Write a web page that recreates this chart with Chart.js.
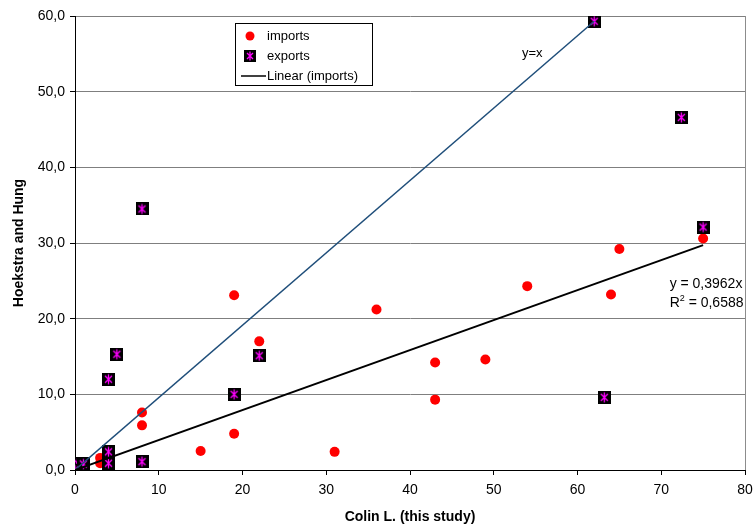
<!DOCTYPE html>
<html>
<head>
<meta charset="utf-8">
<script src="https://cdn.jsdelivr.net/npm/chart.js@4/dist/chart.umd.min.js"></script>
<style>
  html,body{margin:0;padding:0;background:#fff;}
  #wrap{width:754px;height:529px;position:relative;}
</style>
</head>
<body>
<div id="wrap"><canvas id="c" width="754" height="529"></canvas></div>
<script>
// ---- data ----
const importsX = [75, 65, 64, 54, 49, 43, 43, 36, 31, 22, 19, 19, 15, 8, 8, 3, 3, 1, 0.5];
const importsY = [30.6, 29.2, 23.2, 24.3, 14.6, 14.2, 9.3, 21.2, 2.4, 17.0, 23.1, 4.8, 2.5, 7.6, 5.9, 1.6, 0.9, 0.4, 0.2];
const exportsX = [62, 72.4, 75, 63.2, 22, 19, 8, 5, 4, 4, 4, 8, 0.3, 1, 0];
const exportsY = [59.3, 46.6, 32.1, 9.6, 15.1, 10.0, 34.5, 15.3, 12.0, 2.4, 0.9, 1.1, 0.9, 0.8, 0];
const trendSlope = 0.3962;
const trendR2 = 0.6588;
const trendX = [0, 75];
const yxLineX = [0, 62];
const yxLineY = [0, 59.3];
const xTickLabels = ['0','10','20','30','40','50','60','70','80'];
const yTickLabels = ['0,0','10,0','20,0','30,0','40,0','50,0','60,0'];
const seriesNames = ['imports', 'exports', 'Linear (imports)'];
const xTitle = 'Colin L. (this study)';
const yTitle = 'Hoekstra and Hung';

// ---- export marker image ----
function makeExportMarker(size){
  const cv = document.createElement('canvas');
  cv.width = size; cv.height = size;
  const g = cv.getContext('2d');
  g.fillStyle = '#000000';
  g.fillRect(0,0,size,size);
  g.strokeStyle = '#FF00FF';
  g.lineWidth = 1.3;
  const m = 3;
  g.beginPath();
  g.moveTo(m, m); g.lineTo(size-m, size-m);
  g.moveTo(size-m, m); g.lineTo(m, size-m);
  g.moveTo(size/2, 1.5); g.lineTo(size/2, size-1.5);
  g.stroke();
  return cv;
}
const exportMarker = makeExportMarker(13);
const exportMarkerSmall = makeExportMarker(12);

const importsData = importsX.map((x,i)=>({x, y: importsY[i]}));
const exportsData = exportsX.map((x,i)=>({x, y: exportsY[i]}));
const trendData = trendX.map(x=>({x, y: trendSlope*x}));
const yxData = yxLineX.map((x,i)=>({x, y: yxLineY[i]}));

const FONT = '"Liberation Sans", Arial, sans-serif';

const decorPlugin = {
  id: 'decor',
  afterDraw(chart){
    const ctx = chart.ctx;
    const ca = chart.chartArea;
    const xs = chart.scales.x, ys = chart.scales.y;
    ctx.save();
    // right plot border
    ctx.strokeStyle = '#8c8c8c';
    ctx.lineWidth = 1;
    ctx.beginPath();
    ctx.moveTo(Math.round(ca.right)+0.5, ca.top);
    ctx.lineTo(Math.round(ca.right)+0.5, ca.bottom);
    ctx.stroke();

    // annotations
    ctx.fillStyle = '#000';
    ctx.font = '13px ' + FONT;
    ctx.textBaseline = 'middle';
    ctx.textAlign = 'center';
    ctx.fillText('y=x', xs.getPixelForValue(54.6), ys.getPixelForValue(55.1));

    ctx.font = '14px ' + FONT;
    ctx.textAlign = 'left';
    const tx = xs.getPixelForValue(71.0);
    ctx.fillText('y = 0,3962x', tx, ys.getPixelForValue(24.6));
    const ry = ys.getPixelForValue(22.0);
    ctx.fillText('R', tx, ry);
    const rw = ctx.measureText('R').width;
    ctx.font = '9px ' + FONT;
    ctx.fillText('2', tx + rw, ry - 5);
    const sw = ctx.measureText('2').width;
    ctx.font = '14px ' + FONT;
    ctx.fillText(' = ' + trendR2.toFixed(4).replace('.', ','), tx + rw + sw, ry);

    // legend box
    const lx = 235.5, ly = 23.5, lw = 137, lh = 62;
    ctx.fillStyle = '#fff';
    ctx.fillRect(lx, ly, lw, lh);
    ctx.strokeStyle = '#000';
    ctx.lineWidth = 1;
    ctx.strokeRect(lx, ly, lw, lh);
    ctx.font = '13px ' + FONT;
    ctx.fillStyle = '#000';
    ctx.textAlign = 'left';
    const textX = 267;
    const rows = [36, 56, 76];
    // imports
    ctx.beginPath();
    ctx.fillStyle = '#FF0000';
    ctx.arc(250, rows[0], 4.5, 0, Math.PI*2);
    ctx.fill();
    ctx.fillStyle = '#000';
    ctx.fillText(seriesNames[0], textX, rows[0]);
    // exports
    ctx.drawImage(exportMarkerSmall, 244, rows[1]-6);
    ctx.fillText(seriesNames[1], textX, rows[1]);
    // linear
    ctx.strokeStyle = '#000';
    ctx.lineWidth = 1.5;
    ctx.beginPath();
    ctx.moveTo(241, rows[2]); ctx.lineTo(266, rows[2]);
    ctx.stroke();
    ctx.fillText(seriesNames[2], textX, rows[2]);
    ctx.restore();
  }
};

new Chart(document.getElementById('c'), {
  type: 'scatter',
  data: {
    datasets: [
      { label: seriesNames[2], type: 'line', data: trendData, borderColor: '#000000', borderWidth: 2, pointRadius: 0, fill: false, order: 0 },
      { label: 'y=x', type: 'line', data: yxData, borderColor: '#1F4E7A', borderWidth: 1.5, pointRadius: 0, fill: false, order: 1 },
      { label: seriesNames[1], data: exportsData, pointStyle: exportMarker, pointRadius: 6.5, order: 2 },
      { label: seriesNames[0], data: importsData, backgroundColor: '#FF0000', borderColor: '#FF0000', pointRadius: 5, borderWidth: 0, order: 3 }
    ]
  },
  options: {
    responsive: false,
    animation: false,
    events: [],
    layout: { padding: { left: 0, top: 16, right: 9, bottom: 0 } },
    plugins: { legend: { display: false }, tooltip: { enabled: false } },
    scales: {
      x: {
        type: 'linear', min: 0, max: 80,
        afterFit(s){ s.height = 59; s.paddingRight = 0; s.paddingLeft = 0; },
        ticks: { stepSize: 10, color: '#000', font: { family: FONT, size: 14 }, padding: 7,
                 callback: (v, i) => xTickLabels[i] },
        grid: { drawOnChartArea: false, color: '#000', tickColor: '#000', tickLength: 5 },
        border: { display: true, color: '#000', width: 1 },
        title: { display: true, text: xTitle, color: '#000', font: { family: FONT, size: 14, weight: 'bold' }, padding: { top: 0, bottom: 3 } }
      },
      y: {
        type: 'linear', min: 0, max: 60,
        afterFit(s){ s.width = 75; s.paddingTop = 0; s.paddingBottom = 0; },
        ticks: { stepSize: 10, color: '#000', font: { family: FONT, size: 14 }, padding: 5,
                 callback: (v, i) => yTickLabels[i] },
        grid: { color: '#7f7f7f', tickColor: '#000', tickLength: 5, lineWidth: 1 },
        border: { display: true, color: '#000', width: 1 },
        title: { display: true, text: yTitle, color: '#000', font: { family: FONT, size: 14, weight: 'bold' }, padding: { top: 11, bottom: 0 } }
      }
    }
  },
  plugins: [decorPlugin]
});
</script>
</body>
</html>
